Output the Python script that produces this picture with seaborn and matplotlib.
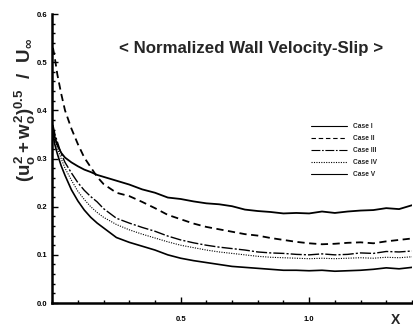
import matplotlib
matplotlib.use("Agg")
import matplotlib.pyplot as plt
from matplotlib.ticker import MultipleLocator, FixedLocator, FormatStrFormatter
import seaborn as sns
import pandas as pd

# streamwise position
x = [0.003, 0.01, 0.02, 0.035, 0.05, 0.075, 0.1, 0.125, 0.15, 0.175,
     0.2, 0.25, 0.3, 0.35, 0.4, 0.45, 0.5, 0.55, 0.6, 0.65, 0.7, 0.75,
     0.8, 0.85, 0.9, 0.95, 1.0, 1.05, 1.1, 1.15, 1.2, 1.25, 1.3, 1.35, 1.4]

case_1 = [0.36, 0.345, 0.328, 0.312, 0.302, 0.292, 0.284, 0.277, 0.272, 0.266,
          0.262, 0.254, 0.246, 0.236, 0.229, 0.219, 0.216, 0.211, 0.207, 0.205,
          0.201, 0.194, 0.191, 0.189, 0.186, 0.187, 0.186, 0.19, 0.187, 0.19,
          0.192, 0.193, 0.197, 0.195, 0.203]
case_2 = [0.53, 0.51, 0.475, 0.435, 0.40, 0.362, 0.33, 0.302, 0.282, 0.262,
          0.247, 0.229, 0.222, 0.21, 0.197, 0.183, 0.174, 0.165, 0.158, 0.153,
          0.148, 0.143, 0.14, 0.135, 0.131, 0.127, 0.124, 0.122, 0.123, 0.125,
          0.126, 0.124, 0.128, 0.131, 0.134]
case_3 = [0.37, 0.352, 0.335, 0.31, 0.292, 0.27, 0.25, 0.234, 0.221, 0.21,
          0.196, 0.176, 0.166, 0.157, 0.149, 0.139, 0.131, 0.125, 0.12, 0.116,
          0.113, 0.11, 0.106, 0.104, 0.103, 0.101, 0.1, 0.102, 0.1, 0.101,
          0.104, 0.103, 0.107, 0.106, 0.108]
case_4 = [0.36, 0.342, 0.322, 0.3, 0.28, 0.255, 0.232, 0.215, 0.2, 0.188,
          0.178, 0.163, 0.152, 0.143, 0.135, 0.127, 0.12, 0.115, 0.11, 0.106,
          0.103, 0.1, 0.097, 0.095, 0.094, 0.093, 0.092, 0.093, 0.092, 0.093,
          0.094, 0.093, 0.095, 0.094, 0.096]
case_5 = [0.35, 0.33, 0.31, 0.285, 0.265, 0.235, 0.212, 0.193, 0.178, 0.166,
          0.156, 0.136, 0.126, 0.118, 0.11, 0.1, 0.093, 0.088, 0.084, 0.08,
          0.076, 0.074, 0.072, 0.07, 0.068, 0.068, 0.067, 0.068, 0.066, 0.067,
          0.068, 0.07, 0.073, 0.071, 0.074]

labels = ["Case I", "Case II", "Case III", "Case IV", "Case V"]
series = [case_1, case_2, case_3, case_4, case_5]

df = pd.concat(
    [pd.DataFrame({"x": x, "v": s, "case": lab}) for lab, s in zip(labels, series)],
    ignore_index=True,
)

sns.set_style("ticks")
plt.rcParams["font.family"] = ["Liberation Sans", "DejaVu Sans"]
plt.rcParams["mathtext.fontset"] = "custom"
plt.rcParams["mathtext.rm"] = "Liberation Sans:bold"
plt.rcParams["mathtext.it"] = "Liberation Sans:bold"
plt.rcParams["mathtext.bf"] = "Liberation Sans:bold"

fig = plt.figure(figsize=(4.14, 3.35), dpi=100)
ax = fig.add_axes([0.126, 0.0955, 0.869, 0.8625])

styles = {
    "Case I": dict(ls="-", lw=1.3),
    "Case II": dict(ls=(0, (4, 2.5)), lw=1.3),
    "Case III": dict(ls=(0, (8, 1.5, 1.5, 1.5)), lw=1.0),
    "Case IV": dict(ls=(0, (1, 1.2)), lw=0.8),
    "Case V": dict(ls="-", lw=1.2),
}

for lab in labels:
    sns.lineplot(data=df[df["case"] == lab], x="x", y="v", ax=ax,
                 color="black", label=lab, **styles[lab])

ax.set_xlim(0, 1.4)
ax.set_ylim(0, 0.6)
ax.xaxis.set_major_locator(FixedLocator([0.5, 1.0]))
ax.xaxis.set_minor_locator(MultipleLocator(0.1))
ax.yaxis.set_major_locator(MultipleLocator(0.1))
ax.yaxis.set_minor_locator(MultipleLocator(0.02))
ax.xaxis.set_major_formatter(FormatStrFormatter("%.1f"))
ax.yaxis.set_major_formatter(FormatStrFormatter("%.1f"))
ax.tick_params(which="both", direction="in", width=1.0, colors="black",
               labelsize=5.5)
ax.tick_params(which="major", length=4)
ax.tick_params(which="minor", length=2)
ax.tick_params(axis="x", which="major", pad=9)
for t in ax.get_xticklabels() + ax.get_yticklabels():
    t.set_fontweight("bold")

sns.despine(ax=ax)
for sp in ("left", "bottom"):
    ax.spines[sp].set_linewidth(1.8)
    ax.spines[sp].set_color("black")

ax.set_xlabel("X", fontsize=10, fontweight="bold")
ax.xaxis.set_label_coords(0.953, -0.035)
ax.set_ylabel(r"$(u_o^2+w_o^2)^{0.5}\ \ /\ \ U_\infty$", fontsize=13.5)
ax.yaxis.set_label_coords(-0.04, 0.67)

ax.text(0.553, 0.882, "< Normalized Wall Velocity-Slip >", transform=ax.transAxes,
        ha="center", va="center", fontsize=12.2, fontweight="bold")

leg = ax.legend(loc="upper left", bbox_to_anchor=(0.71, 0.635), frameon=False,
                fontsize=4.8, handlelength=5.4, handletextpad=0.9,
                labelspacing=0.75, borderpad=0)
for t in leg.get_texts():
    t.set_fontweight("bold")
for h in leg.get_lines():
    h.set_linewidth(0.8)

fig.savefig("out.png", dpi=100)
